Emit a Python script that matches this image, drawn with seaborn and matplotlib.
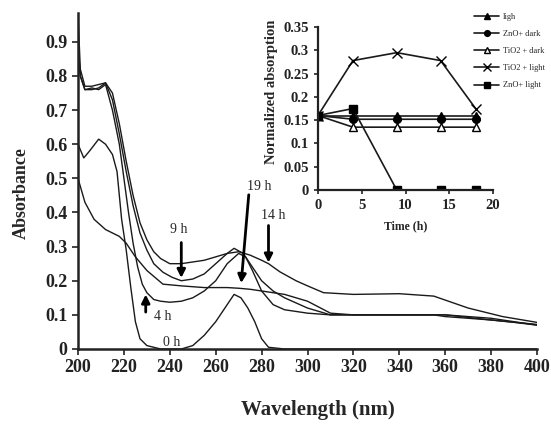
import numpy as np
import pandas as pd
import matplotlib
matplotlib.use("Agg")
import matplotlib.pyplot as plt
import seaborn as sns

# Espectros UV-Vis
wl_0h = [200, 202.5, 205, 209, 212, 215, 217, 219, 221, 223, 225, 227, 230, 236, 245, 250, 255,
         260, 265, 268, 271, 274, 277, 280, 283, 290, 300, 320, 340, 360, 380, 400]
abs_0h = [0.60, 0.56, 0.58, 0.615, 0.60, 0.57, 0.52, 0.38, 0.29, 0.18, 0.08, 0.03, 0.01, 0.0, 0.0,
          0.01, 0.04, 0.08, 0.13, 0.16, 0.15, 0.12, 0.08, 0.03, 0.005, 0.0, 0.0, 0.0, 0.0, 0.0, 0.0, 0.0]

wl_4h = [200, 201, 203, 206, 209, 212, 215, 218, 220, 222, 224, 226, 228, 230, 233, 236, 240, 245,
         250, 255, 260, 265, 270, 273, 276, 280, 285, 290, 300, 310, 320, 340, 355, 360, 370, 380,
         390, 400]
abs_4h = [0.88, 0.80, 0.76, 0.765, 0.76, 0.775, 0.70, 0.60, 0.50, 0.40, 0.31, 0.24, 0.19, 0.165,
          0.145, 0.14, 0.137, 0.14, 0.15, 0.17, 0.20, 0.25, 0.28, 0.27, 0.23, 0.17, 0.13, 0.115,
          0.105, 0.10, 0.10, 0.10, 0.10, 0.095, 0.09, 0.085, 0.078, 0.07]

wl_9h = [200, 201, 203, 206, 209, 212, 215, 218, 221, 224, 227, 230, 233, 237, 241, 245, 250, 255,
         260, 265, 268, 272, 276, 280, 285, 290, 300, 310, 320, 340, 360, 380, 400]
abs_9h = [0.90, 0.80, 0.76, 0.76, 0.765, 0.78, 0.73, 0.63, 0.52, 0.42, 0.34, 0.29, 0.25, 0.225,
          0.21, 0.20, 0.205, 0.22, 0.25, 0.28, 0.295, 0.28, 0.24, 0.20, 0.17, 0.15, 0.12, 0.10,
          0.10, 0.10, 0.10, 0.085, 0.072]

wl_14h = [200, 201, 203, 206, 209, 212, 215, 218, 221, 224, 227, 230, 233, 236, 240, 245, 250, 255,
          260, 265, 270, 275, 280, 283, 288, 295, 300, 307, 320, 340, 355, 370, 385, 400]
abs_14h = [0.98, 0.82, 0.77, 0.77, 0.775, 0.78, 0.75, 0.66, 0.55, 0.45, 0.37, 0.32, 0.285, 0.265,
           0.25, 0.25, 0.255, 0.26, 0.27, 0.28, 0.285, 0.275, 0.26, 0.25, 0.226, 0.20, 0.185, 0.165,
           0.16, 0.162, 0.155, 0.12, 0.095, 0.078]

wl_19h = [200, 203, 207, 212, 218, 221, 225, 230, 237, 245, 255, 265, 270, 275, 280, 290, 300, 310,
          320, 340, 360, 370, 380, 390, 400]
abs_19h = [0.50, 0.43, 0.38, 0.35, 0.33, 0.31, 0.27, 0.23, 0.19, 0.185, 0.18, 0.18, 0.178, 0.175,
           0.17, 0.16, 0.14, 0.105, 0.10, 0.10, 0.10, 0.095, 0.09, 0.08, 0.07]

# Inset: absorção normalizada x tempo
tempo = [0, 4, 9, 14, 18]
series_inset = {
    'ligh': [0.16, 0.16, 0.16, 0.16, 0.16],
    'ZnO+ dark': [0.16, 0.152, 0.152, 0.152, 0.152],
    'TiO2 + dark': [0.16, 0.135, 0.135, 0.135, 0.135],
    'TiO2 + light': [0.16, 0.278, 0.295, 0.278, 0.175],
    'ZnO+ light': [0.16, 0.175, 0.0, 0.0, 0.0],
}
marcadores = {'ligh': '^', 'ZnO+ dark': 'o', 'TiO2 + dark': '^', 'TiO2 + light': 'x', 'ZnO+ light': 's'}

sns.set_style("ticks")
plt.rcParams['font.family'] = ['Liberation Serif', 'DejaVu Serif']
plt.rcParams['font.weight'] = 'bold'

fig = plt.figure(figsize=(5.51, 4.29), dpi=100)
ax = fig.add_axes([0.1416, 0.1865, 0.833, 0.7835])

espectros = [(wl_0h, abs_0h), (wl_4h, abs_4h), (wl_9h, abs_9h), (wl_14h, abs_14h), (wl_19h, abs_19h)]
for wl, ab in espectros:
    sns.lineplot(x=wl, y=ab, ax=ax, color='#1a1a1a', linewidth=1.0, sort=False)

ax.set_xlim(200, 400)
ax.set_ylim(0, 0.985)
ax.set_xticks(range(200, 401, 20))
ax.set_yticks([0, 0.1, 0.2, 0.3, 0.4, 0.5, 0.6, 0.7, 0.8, 0.9])
ax.set_yticklabels(['0', '0.1', '0.2', '0.3', '0.4', '0.5', '0.6', '0.7', '0.8', '0.9'])
ax.tick_params(labelsize=13, width=1.2, length=4, colors='#222222')
for s in ['left', 'bottom']:
    ax.spines[s].set_linewidth(1.8)
    ax.spines[s].set_color('#222222')
sns.despine(ax=ax)
ax.set_xlabel('')
ax.set_ylabel('')
fig.text(0.577, 0.044, 'Wavelength (nm)', fontsize=15, fontweight='bold', ha='center', va='center')
fig.text(0.038, 0.55, 'Absorbance', fontsize=13, fontweight='bold', rotation=90, ha='center', va='center')

# Setas
seta = dict(arrowstyle='-|>', color='black', lw=2, mutation_scale=12)
ax.annotate('', xy=(245, 0.2), xytext=(245, 0.32), arrowprops=seta)
ax.text(244, 0.35, '9 h', fontsize=10, fontweight='normal', ha='center', va='center')
ax.annotate('', xy=(229.5, 0.168), xytext=(229.5, 0.10), arrowprops=seta)
ax.text(237, 0.094, '4 h', fontsize=10, fontweight='normal', ha='center', va='center')
ax.text(241, 0.018, '0 h', fontsize=10, fontweight='normal', ha='center', va='center')
ax.annotate('', xy=(271, 0.185), xytext=(274.5, 0.46), arrowprops=seta)
ax.text(279, 0.475, '19 h', fontsize=10, fontweight='normal', ha='center', va='center')
ax.annotate('', xy=(283, 0.245), xytext=(283, 0.37), arrowprops=seta)
ax.text(285, 0.39, '14 h', fontsize=10, fontweight='normal', ha='center', va='center')

# Inset
axi = fig.add_axes([0.577, 0.557, 0.318, 0.38])
axi.patch.set_alpha(0)
for nome, vals in series_inset.items():
    face = 'white' if nome == 'TiO2 + dark' else 'black'
    sns.lineplot(x=tempo, y=vals, ax=axi, color='#1a1a1a', linewidth=1.2, marker=marcadores[nome],
                 markersize=5.5 if nome != 'TiO2 + light' else 7, markerfacecolor=face,
                 markeredgecolor='black', markeredgewidth=1.0, label=nome, legend=False)
axi.set_xlim(0, 20)
axi.set_ylim(0, 0.35)
axi.set_xticks([0, 5, 10, 15, 20])
axi.set_yticks([0, 0.05, 0.1, 0.15, 0.2, 0.25, 0.3, 0.35])
axi.set_yticklabels(['0', '0.05', '0.1', '0.15', '0.2', '0.25', '0.3', '0.35'])
axi.tick_params(labelsize=10.5, width=1.2, length=3, colors='#222222')
for s in ['left', 'bottom']:
    axi.spines[s].set_linewidth(1.6)
    axi.spines[s].set_color('#222222')
sns.despine(ax=axi)
axi.set_xlabel('Time (h)', fontsize=8.5, fontweight='bold', labelpad=6)
axi.set_ylabel('')
fig.text(0.493, 0.786, 'Normalized absorption', fontsize=10.5, fontweight='bold', rotation=90,
         ha='center', va='center')

leg = fig.legend(*axi.get_legend_handles_labels(), loc='upper left', bbox_to_anchor=(0.855, 0.978),
                 frameon=False, fontsize=6, handlelength=3.0, labelspacing=1.1, handletextpad=0.4,
                 borderaxespad=0, markerscale=0.75)
for t in leg.get_texts():
    t.set_fontweight('normal')

fig.savefig('out.png', dpi=100)
